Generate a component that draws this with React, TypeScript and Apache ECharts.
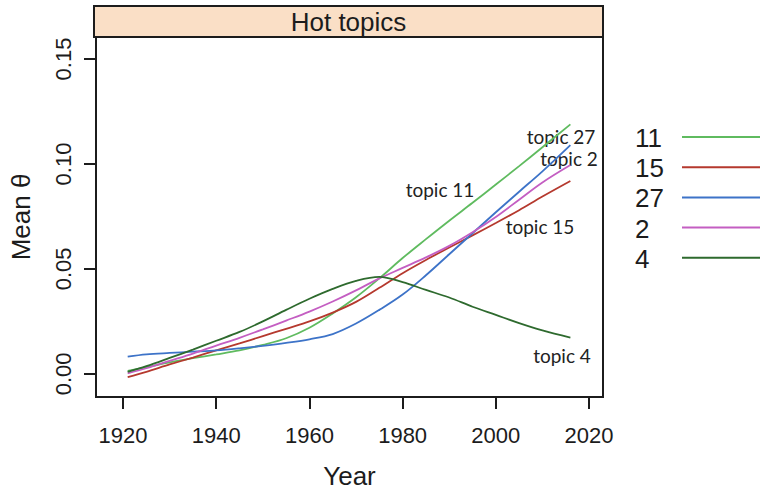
import React, { useEffect, useRef } from "react";
import * as echarts from "echarts";

// Yearly mean topic proportions (smoothed), sampled along the timeline
const years = [1921, 1925, 1930, 1935, 1940, 1945, 1950, 1955, 1960, 1965, 1970, 1975, 1980, 1985, 1990, 1995, 2000, 2005, 2010, 2016];

const topic11 = [0.0015, 0.0032, 0.0055, 0.0075, 0.0093, 0.0112, 0.0138, 0.0170, 0.0220, 0.0288, 0.0365, 0.0455, 0.0552, 0.0642, 0.0730, 0.0815, 0.0902, 0.0990, 0.1080, 0.1189];
const topic15 = [-0.0015, 0.0010, 0.0045, 0.0078, 0.0112, 0.0145, 0.0180, 0.0215, 0.0250, 0.0292, 0.0343, 0.0410, 0.0480, 0.0543, 0.0602, 0.0660, 0.0719, 0.0780, 0.0845, 0.0919];
const topic27 = [0.0082, 0.0093, 0.0100, 0.0106, 0.0112, 0.0122, 0.0134, 0.0148, 0.0165, 0.0190, 0.0240, 0.0305, 0.0378, 0.0470, 0.0570, 0.0670, 0.0770, 0.0868, 0.0965, 0.1090];
const topic2 = [0.0003, 0.0027, 0.0062, 0.0097, 0.0135, 0.0172, 0.0212, 0.0254, 0.0297, 0.0345, 0.0398, 0.0455, 0.0505, 0.0555, 0.0610, 0.0675, 0.0748, 0.0830, 0.0912, 0.0995];
const topic4 = [0.0010, 0.0037, 0.0076, 0.0116, 0.0158, 0.0200, 0.0250, 0.0305, 0.0358, 0.0405, 0.0443, 0.0462, 0.0437, 0.0400, 0.0364, 0.0320, 0.0281, 0.0242, 0.0207, 0.0173];

const topicIds = ["11", "15", "27", "2", "4"];
const topicValues = [topic11, topic15, topic27, topic2, topic4];
const topicColors = ["#5fbb5f", "#b5392e", "#3d73c8", "#c45ec2", "#2e6a2e"];

const xTicks = [1920, 1940, 1960, 1980, 2000, 2020];
const yTicks = [0, 0.05, 0.1, 0.15];

const panelTitle = "Hot topics";
const xTitle = "Year";
const yTitle = "Mean θ";

// In-panel annotations naming each curve
const annotations = [
  { text: "topic 27", x: 561, y: 136 },
  { text: "topic 2", x: 569, y: 158 },
  { text: "topic 11", x: 440, y: 189 },
  { text: "topic 15", x: 540, y: 226 },
  { text: "topic 4", x: 562, y: 355 },
];

const INK = "#1c1c1c";
const AXIS_FONT = "'Liberation Sans', Arial, sans-serif";
const NOTE_FONT = "Lato, 'Open Sans', sans-serif";

export default function App() {
  const ref = useRef<HTMLDivElement>(null);

  useEffect(() => {
    if (!ref.current) return;
    const chart = echarts.init(ref.current, undefined, { renderer: "svg" });

    const left = 94;
    const right = 603;
    const top = 37;
    const bottom = 397;

    const legendGraphics: any[] = [];
    topicIds.forEach((id, i) => {
      const ly = 137 + i * 30.2;
      legendGraphics.push({
        type: "text",
        left: 635,
        top: ly - 12,
        style: { text: id, fill: INK, font: `26px ${AXIS_FONT}` },
      });
      legendGraphics.push({
        type: "line",
        shape: { x1: 682, y1: ly, x2: 760, y2: ly },
        style: { stroke: topicColors[i], lineWidth: 2 },
      });
    });

    const axisLine = { show: true, onZero: false, lineStyle: { color: INK, width: 2 } };

    chart.setOption({
      animation: false,
      backgroundColor: "#ffffff",
      grid: {
        left,
        top,
        width: right - left,
        height: bottom - top,
        show: true,
        borderColor: INK,
        borderWidth: 2,
        backgroundColor: "transparent",
      },
      xAxis: {
        type: "value",
        min: 1914.2,
        max: 2023,
        name: xTitle,
        nameLocation: "middle",
        nameGap: 66,
        nameTextStyle: { fontFamily: AXIS_FONT, fontSize: 26, color: INK },
        axisLine,
        splitLine: { show: false },
        axisTick: {
          show: true,
          inside: false,
          length: 12,
          customValues: xTicks,
          lineStyle: { color: INK, width: 2 },
        },
        axisLabel: {
          customValues: xTicks,
          margin: 27,
          fontFamily: AXIS_FONT,
          fontSize: 22,
          color: INK,
          formatter: (v: number) => String(v),
        },
      },
      yAxis: {
        type: "value",
        min: -0.011,
        max: 0.1605,
        name: yTitle,
        nameLocation: "middle",
        nameRotate: 90,
        nameGap: 62,
        nameTextStyle: { fontFamily: AXIS_FONT, fontSize: 26, color: INK },
        axisLine,
        splitLine: { show: false },
        axisTick: {
          show: true,
          inside: false,
          length: 12,
          customValues: yTicks,
          lineStyle: { color: INK, width: 2 },
        },
        axisLabel: {
          customValues: yTicks,
          rotate: 90,
          margin: 22,
          fontFamily: AXIS_FONT,
          fontSize: 22,
          color: INK,
          formatter: (v: number) => v.toFixed(2),
        },
      },
      series: topicIds.map((id, i) => ({
        name: id,
        type: "line",
        smooth: 0.35,
        showSymbol: false,
        symbol: "none",
        lineStyle: { color: topicColors[i], width: 1.8 },
        data: years.map((yr, k) => [yr, topicValues[i][k]]),
      })),
      graphic: [
        {
          type: "rect",
          shape: { x: left, y: 6, width: right - left, height: top - 6 },
          style: { fill: "#fadfc6", stroke: INK, lineWidth: 2 },
        },
        {
          type: "text",
          x: (left + right) / 2,
          y: 22,
          style: {
            text: panelTitle,
            fill: INK,
            font: `26px ${AXIS_FONT}`,
            textAlign: "center",
            textVerticalAlign: "middle",
          },
        },
        ...annotations.map((a) => ({
          type: "text",
          x: a.x,
          y: a.y,
          style: {
            text: a.text,
            fill: "#222",
            font: `19px ${NOTE_FONT}`,
            textAlign: "center",
            textVerticalAlign: "middle",
          },
        })),
        ...legendGraphics,
      ],
    });

    return () => chart.dispose();
  }, []);

  return (
    <div
      ref={ref}
      style={{ position: "fixed", left: 0, top: 0, width: 760, height: 494, background: "#fff" }}
    />
  );
}
